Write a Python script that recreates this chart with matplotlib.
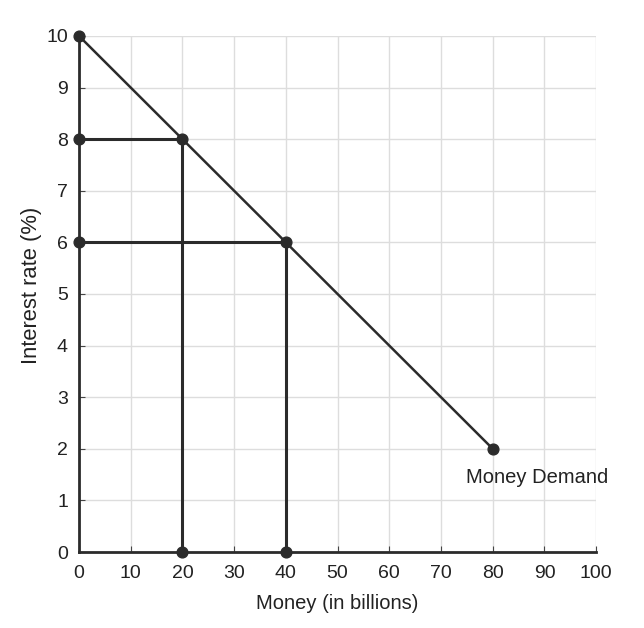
import matplotlib.pyplot as plt

plt.rcParams['font.family'] = ['Liberation Sans', 'DejaVu Sans']

# money demand curve
demand_x = [0, 20, 40, 80]
demand_y = [10, 8, 6, 2]

# guide lines from the curve down to the axes
guide_money = [20, 40]
guide_rate = [8, 6]

x_ticks = list(range(0, 101, 10))
y_ticks = list(range(0, 11))

dark = '#2b2b2b'

fig = plt.figure(figsize=(6.44, 6.28), dpi=100)
ax = fig.add_axes([0.1227, 0.121, 0.803, 0.8217])

ax.plot(demand_x, demand_y, color=dark, lw=1.8, zorder=3)
ax.scatter(demand_x, demand_y, s=60, color=dark, zorder=4, clip_on=False)

for m, r in zip(guide_money, guide_rate):
    ax.plot([0, m], [r, r], color=dark, lw=2.2, zorder=3)
    ax.plot([m, m], [r, 0], color=dark, lw=2.2, zorder=3)
    ax.scatter([0, m], [r, 0], s=60, color=dark, zorder=4, clip_on=False)

ax.text(88.5, 1.33, 'Money Demand', ha='center', va='baseline', fontsize=14.5, color='#222222')

ax.set_xlim(0, 100)
ax.set_ylim(0, 10)
ax.set_xticks(x_ticks)
ax.set_yticks(y_ticks)
ax.grid(True, color='#dddddd', lw=1)
ax.set_axisbelow(True)
for side in ['top', 'right']:
    ax.spines[side].set_visible(False)
for side in ['left', 'bottom']:
    ax.spines[side].set_linewidth(2)
    ax.spines[side].set_color(dark)
ax.tick_params(direction='in', length=4, color='#444444', labelsize=14, labelcolor='#222222')
ax.tick_params(axis='x', pad=9)
ax.tick_params(axis='y', pad=8)
ax.set_xlabel('Money (in billions)', fontsize=14.5, labelpad=9, color='#222222')
ax.set_ylabel('Interest rate (%)', fontsize=15.8, color='#222222')
ax.yaxis.set_label_coords(-0.072, 0.517)

fig.savefig('out.png', dpi=100)
